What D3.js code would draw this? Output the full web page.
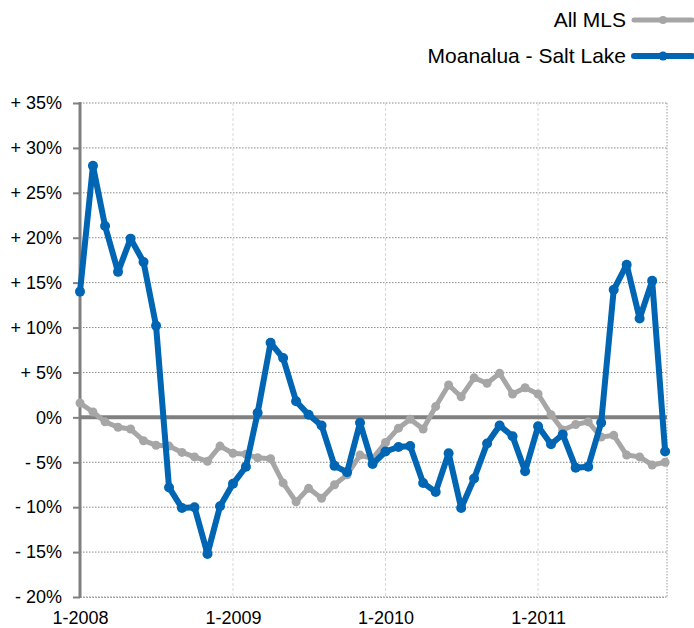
<!DOCTYPE html>
<html>
<head>
<meta charset="utf-8">
<script src="https://cdn.jsdelivr.net/npm/d3@7"></script>
<style>
  body { margin: 0; background: #fff; }
  text { font-family: "Liberation Sans", Arial, Helvetica, sans-serif; }
</style>
</head>
<body>
<div id="chart"></div>
<script>
// monthly % change, Jan 2008 .. Nov 2011
var startMonth = new Date(2008, 0, 1);
var allMLS = [1.6, 0.6, -0.5, -1.1, -1.3, -2.6, -3.1, -3.2, -3.9, -4.4, -4.9, -3.2,
  -4.0, -4.1, -4.5, -4.6, -7.3, -9.4, -7.9, -9.0, -7.5, -6.4, -4.2, -4.6,
  -2.8, -1.2, -0.2, -1.3, 1.2, 3.6, 2.3, 4.4, 3.8, 4.9, 2.6, 3.3,
  2.6, 0.3, -1.4, -0.8, -0.5, -2.2, -2.0, -4.2, -4.4, -5.3, -5.0];
var moanalua = [14.0, 28.0, 21.3, 16.2, 19.9, 17.3, 10.2, -7.8, -10.1, -10.0, -15.2, -9.9,
  -7.4, -5.5, 0.5, 8.3, 6.6, 1.8, 0.3, -0.9, -5.4, -6.1, -0.6, -5.2,
  -3.8, -3.3, -3.2, -7.3, -8.3, -4.0, -10.1, -6.8, -2.9, -0.9, -2.1, -6.0,
  -1.0, -3.0, -1.9, -5.6, -5.5, -0.6, 14.2, 17.0, 11.0, 15.2, -3.8];
var yTicks = [-20, -15, -10, -5, 0, 5, 10, 15, 20, 25, 30, 35];
var xTicks = [new Date(2008, 0, 1), new Date(2009, 0, 1), new Date(2010, 0, 1), new Date(2011, 0, 1)];
var seriesNames = ["All MLS", "Moanalua - Salt Lake"];

var width = 694, height = 628;
var plotL = 80, plotR = 667, plotT = 103, plotB = 597;

var svg = d3.select("#chart").append("svg")
  .attr("width", width).attr("height", height);

function monthDate(i) { return d3.timeMonth.offset(startMonth, i); }

var x = d3.scaleTime()
  .domain([startMonth, monthDate(46)])
  .range([plotL, plotL + 46 * 12.72]);
var y = d3.scaleLinear().domain([-20, 35]).range([plotB, plotT]);

// horizontal dotted grid
svg.selectAll(".hgrid").data(yTicks.filter(function(d) { return d != 0; }))
  .enter().append("line")
  .attr("x1", plotL).attr("x2", plotR)
  .attr("y1", function(d) { return y(d); })
  .attr("y2", function(d) { return y(d); })
  .attr("stroke", "#8a8a8a").attr("stroke-width", 1)
  .attr("stroke-dasharray", "1.5,1.5");

// vertical year grid
svg.selectAll(".vgrid").data(xTicks.slice(1))
  .enter().append("line")
  .attr("x1", function(d) { return x(d); }).attr("x2", function(d) { return x(d); })
  .attr("y1", plotT).attr("y2", plotB)
  .attr("stroke", "#d8d8d8").attr("stroke-width", 1)
  .attr("stroke-dasharray", "3,2");

// right frame edge
svg.append("line")
  .attr("x1", plotR).attr("x2", plotR).attr("y1", plotT).attr("y2", plotB)
  .attr("stroke", "#9a9a9a").attr("stroke-width", 1)
  .attr("stroke-dasharray", "1.5,1.5");

// y axis
var yAxis = d3.axisLeft(y).tickValues(yTicks).tickSize(7)
  .tickFormat(function(d) {
    if (d > 0) return "+ " + d + "%";
    if (d < 0) return "- " + Math.abs(d) + "%";
    return "0%";
  });
var gy = svg.append("g").attr("transform", "translate(" + plotL + ",0)").call(yAxis);
gy.select(".domain").remove();
gy.selectAll(".tick line").attr("stroke", "#808080").attr("stroke-width", 2);
gy.selectAll(".tick text").attr("x", -18).attr("fill", "#000")
  .style("font-size", "18px").style("font-family", "Liberation Sans, Arial, sans-serif");
svg.append("line")
  .attr("x1", plotL).attr("x2", plotL).attr("y1", plotT - 1).attr("y2", plotB + 1)
  .attr("stroke", "#808080").attr("stroke-width", 3);

// x axis
var gx = svg.append("g").attr("transform", "translate(0," + plotB + ")")
  .call(d3.axisBottom(x).tickValues(xTicks).tickSize(0)
    .tickFormat(function(d) { return (d.getMonth() + 1) + "-" + d.getFullYear(); }));
gx.select(".domain").attr("stroke", "#9a9a9a").attr("stroke-dasharray", "1.5,1.5");
gx.selectAll(".tick text").attr("y", 14).attr("fill", "#000")
  .style("font-size", "18px").style("font-family", "Liberation Sans, Arial, sans-serif");

// zero line
svg.append("line")
  .attr("x1", plotL).attr("x2", plotR).attr("y1", y(0)).attr("y2", y(0))
  .attr("stroke", "#808080").attr("stroke-width", 4);

var line = d3.line()
  .x(function(d, i) { return x(monthDate(i)); })
  .y(function(d) { return y(d); });

function drawSeries(values, color, lw, r) {
  svg.append("path").datum(values)
    .attr("d", line).attr("fill", "none")
    .attr("stroke", color).attr("stroke-width", lw)
    .attr("stroke-linejoin", "round");
  svg.selectAll(null).data(values).enter().append("circle")
    .attr("cx", function(d, i) { return x(monthDate(i)); })
    .attr("cy", function(d) { return y(d); })
    .attr("r", r).attr("fill", color);
}
drawSeries(allMLS, "#a6a6a6", 5, 4.5);
drawSeries(moanalua, "#0066b3", 6, 5);

// legend
var legend = [
  { name: seriesNames[0], color: "#a6a6a6", lw: 5, r: 4, y: 20 },
  { name: seriesNames[1], color: "#0066b3", lw: 6, r: 4.5, y: 56 }
];
legend.forEach(function(l) {
  svg.append("text").attr("x", 626).attr("y", l.y + 7)
    .attr("text-anchor", "end").style("font-size", "21px").text(l.name);
  svg.append("line").attr("x1", 634).attr("x2", 692)
    .attr("y1", l.y).attr("y2", l.y)
    .attr("stroke", l.color).attr("stroke-width", l.lw).attr("stroke-linecap", "round");
  svg.append("circle").attr("cx", 663).attr("cy", l.y).attr("r", l.r).attr("fill", l.color);
});
</script>
</body>
</html>
